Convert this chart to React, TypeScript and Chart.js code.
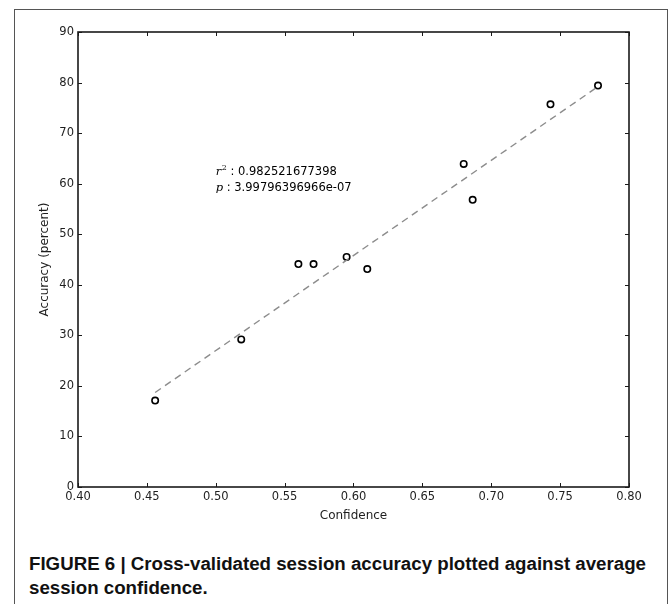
import React, { useEffect, useRef } from "react";
import { Chart, registerables } from "chart.js";

Chart.register(...registerables);

// ---- data ----
const confidence = [0.456, 0.5185, 0.56, 0.571, 0.595, 0.61, 0.68, 0.6865, 0.743, 0.7775];
const accuracy = [17.1, 29.2, 44.1, 44.1, 45.5, 43.1, 63.9, 56.8, 75.7, 79.4];
const fitConfidence = [0.456, 0.7775];
const fitAccuracy = [18.7, 79.2];
const xTickValues = [0.4, 0.45, 0.5, 0.55, 0.6, 0.65, 0.7, 0.75, 0.8];
const yTickValues = [0, 10, 20, 30, 40, 50, 60, 70, 80, 90];
const rSquaredText = "0.982521677398";
const pValueText = "3.99796396966e-07";
const annotationAt = { x: 0.5, y: 58.5 };
const xTitle = "Confidence";
const yTitle = "Accuracy (percent)";
const captionText =
  "FIGURE 6 | Cross-validated session accuracy plotted against average session confidence.";

const AXIS_COLOR = "#1a1a1a";
const TEXT_COLOR = "#1e1e1e";

const framePlugin = {
  id: "frameTicksAnnotation",
  afterDatasetsDraw(chart: any) {
    const { ctx, chartArea: a, scales } = chart;
    const x = scales.x;
    const y = scales.y;
    ctx.save();
    ctx.strokeStyle = AXIS_COLOR;
    ctx.lineWidth = 1;
    const tl = 4;
    ctx.beginPath();
    xTickValues.forEach((v) => {
      const px = Math.round(x.getPixelForValue(v)) + 0.5;
      ctx.moveTo(px, a.bottom);
      ctx.lineTo(px, a.bottom - tl);
      ctx.moveTo(px, a.top);
      ctx.lineTo(px, a.top + tl);
    });
    yTickValues.forEach((v) => {
      const py = Math.round(y.getPixelForValue(v)) + 0.5;
      ctx.moveTo(a.left, py);
      ctx.lineTo(a.left + tl, py);
      ctx.moveTo(a.right, py);
      ctx.lineTo(a.right - tl, py);
    });
    ctx.stroke();
    ctx.lineWidth = 1.6;
    ctx.strokeRect(a.left, a.top, a.right - a.left, a.bottom - a.top);

    // annotation text
    const ax = x.getPixelForValue(annotationAt.x);
    const base2 = y.getPixelForValue(annotationAt.y);
    const base1 = base2 - 16;
    ctx.fillStyle = "#000";
    ctx.textBaseline = "alphabetic";
    ctx.textAlign = "left";
    ctx.font = "italic 11.5px 'DejaVu Serif'";
    ctx.fillText("r", ax, base1);
    let w = ctx.measureText("r").width;
    ctx.font = "8px 'DejaVu Serif'";
    ctx.fillText("2", ax + w + 0.5, base1 - 5);
    w += ctx.measureText("2").width + 0.5;
    ctx.font = "11.5px 'DejaVu Sans'";
    ctx.fillText(" : " + rSquaredText, ax + w, base1);
    ctx.font = "italic 11.5px 'DejaVu Serif'";
    ctx.fillText("p", ax, base2);
    const wp = ctx.measureText("p").width;
    ctx.font = "11.5px 'DejaVu Sans'";
    ctx.fillText(" : " + pValueText, ax + wp, base2);
    ctx.restore();
  },
};

export default function App() {
  const canvasRef = useRef<HTMLCanvasElement | null>(null);

  useEffect(() => {
    const canvas = canvasRef.current;
    if (!canvas) return;
    const chart = new Chart(canvas, {
      type: "scatter",
      data: {
        datasets: [
          {
            type: "line",
            label: "fit",
            data: fitConfidence.map((c, i) => ({ x: c, y: fitAccuracy[i] })),
            borderColor: "#8c8c8c",
            borderWidth: 1.4,
            borderDash: [7, 5],
            pointRadius: 0,
            fill: false,
            tension: 0,
          } as any,
          {
            type: "scatter",
            label: "sessions",
            data: confidence.map((c, i) => ({ x: c, y: accuracy[i] })),
            pointStyle: "circle",
            pointRadius: 3.2,
            borderWidth: 1.6,
            borderColor: "#000",
            backgroundColor: "#fff",
          },
        ],
      },
      options: {
        animation: false,
        responsive: false,
        devicePixelRatio: 1,
        layout: { padding: { left: 34, top: 32, right: 40, bottom: 13 } },
        plugins: {
          legend: { display: false },
          tooltip: { enabled: false },
        },
        scales: {
          x: {
            type: "linear",
            min: 0.4,
            max: 0.8,
            afterFit: (s: any) => {
              s.height = 40;
            },
            afterBuildTicks: (s: any) => {
              s.ticks = xTickValues.map((v) => ({ value: v }));
            },
            grid: { display: false, drawTicks: false },
            border: { display: false },
            ticks: {
              padding: 3,
              color: TEXT_COLOR,
              font: { family: "'DejaVu Sans'", size: 11.5 },
              maxRotation: 0,
              callback: (v: any) => Number(v).toFixed(2),
            },
            title: {
              display: true,
              text: xTitle,
              color: TEXT_COLOR,
              font: { family: "'DejaVu Sans'", size: 12 },
            },
          },
          y: {
            type: "linear",
            min: 0,
            max: 90,
            afterFit: (s: any) => {
              s.width = 44;
            },
            afterBuildTicks: (s: any) => {
              s.ticks = yTickValues.map((v) => ({ value: v }));
            },
            grid: { display: false, drawTicks: false },
            border: { display: false },
            ticks: {
              padding: 4,
              color: TEXT_COLOR,
              font: { family: "'DejaVu Sans'", size: 11.5 },
              callback: (v: any) => String(v),
            },
            title: {
              display: true,
              text: yTitle,
              color: TEXT_COLOR,
              font: { family: "'DejaVu Sans'", size: 12 },
            },
          },
        },
      },
      plugins: [framePlugin],
    });
    return () => chart.destroy();
  }, []);

  return (
    <div
      style={{
        position: "absolute",
        left: 0,
        top: 0,
        width: 669,
        height: 604,
        overflow: "hidden",
        background: "#fff",
      }}
    >
      <div
        style={{
          position: "absolute",
          left: 14,
          top: 9,
          width: 654,
          height: 700,
          boxSizing: "border-box",
          border: "1px solid #555",
        }}
      />
      <canvas
        ref={canvasRef}
        width={669}
        height={540}
        style={{ position: "absolute", left: 0, top: 0, width: 669, height: 540 }}
      />
      <div
        style={{
          position: "absolute",
          left: 29,
          top: 551.6,
          width: 630,
          fontFamily: "'Liberation Sans', Arial, sans-serif",
          fontWeight: "bold",
          fontSize: 18.7,
          lineHeight: "24.5px",
          color: "#111",
        }}
      >
        {captionText}
      </div>
    </div>
  );
}
